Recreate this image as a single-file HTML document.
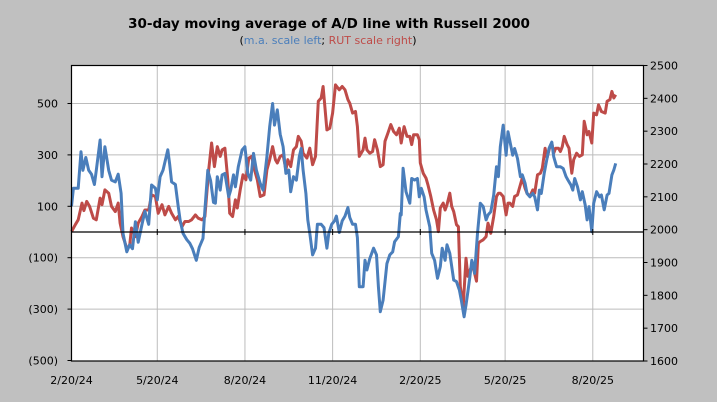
<!DOCTYPE html>
<html><head><meta charset="utf-8"><style>
html,body{margin:0;padding:0;background:#c0c0c0;}
svg{display:block;font-family:"DejaVu Sans","Liberation Sans",sans-serif;}
</style></head><body>
<svg id="chart" width="717" height="402" viewBox="0 0 717 402" xmlns="http://www.w3.org/2000/svg">
<rect x="0" y="0" width="717" height="402" fill="#c0c0c0"/>
<text x="329" y="28" text-anchor="middle" font-size="13.5" font-weight="bold" fill="#000">30-day moving average of A/D line with Russell 2000</text>
<text x="328" y="44" text-anchor="middle" font-size="11"><tspan fill="#000">(</tspan><tspan fill="#4a7ebb">m.a. scale left</tspan><tspan fill="#000">; </tspan><tspan fill="#be4b48">RUT scale right</tspan><tspan fill="#000">)</tspan></text>
<rect x="71.5" y="65.5" width="572" height="295.5" fill="#fff"/>
<g id="grid"></g>
<g id="series"></g>
<g id="axes"></g>
</svg>
<script>
const leftTicks = [500, 300, 100, -100, -300, -500];
const leftTickLabels = ["500", "300", "100", "(100)", "(300)", "(500)"];
const rightTicks = [2500, 2400, 2300, 2200, 2100, 2000, 1900, 1800, 1700, 1600];
const dateTicks = [0, 90, 182, 274, 366, 455, 547];
const dateTickLabels = ["2/20/24", "5/20/24", "8/20/24", "11/20/24", "2/20/25", "5/20/25", "8/20/25"];
const maDays = [0,2,7,10,12,15,18,21,24,26,30,32,35,39,42,46,49,52,54,58,61,64,67,70,74,77,81,84,88,90,93,96,101,103,105,109,112,114,117,121,124,127,131,134,138,140,143,146,149,151,153,156,158,161,165,167,170,172,175,179,182,185,188,191,194,198,201,205,208,211,213,216,219,222,225,228,230,233,236,239,241,243,246,248,250,253,256,258,262,265,268,270,273,276,278,281,284,287,290,292,295,298,300,302,306,308,310,313,317,320,322,324,327,331,334,337,339,343,345,346,348,351,355,357,360,363,365,367,370,372,376,378,381,384,387,389,392,394,397,401,404,407,409,412,414,416,418,420,422,423,426,429,432,435,437,440,443,446,448,450,453,456,458,463,465,468,471,473,476,478,481,484,486,489,491,493,496,499,501,504,506,509,513,516,519,521,524,526,528,531,534,536,539,541,543,546,548,551,554,556,559,562,564,567,569,571];
const maValues = [100,170,170,312,240,290,240,225,185,240,358,215,332,240,202,195,225,150,-5,-77,-50,-65,40,-40,30,80,30,183,170,125,215,240,320,263,195,185,100,47,-5,-30,-43,-65,-110,-60,-25,86,240,200,115,112,215,163,222,228,137,163,222,176,254,319,332,228,202,306,241,189,163,293,410,500,416,475,380,332,228,241,157,215,202,293,325,241,150,47,-5,-89,-63,30,30,17,-63,-5,30,43,62,-2,43,62,95,56,30,30,-22,-213,-213,-110,-148,-103,-63,-89,-213,-310,-265,-123,-89,-77,-38,-18,72,66,248,157,112,208,202,208,137,170,137,86,20,-83,-110,-180,-135,-63,-110,-50,-83,-187,-193,-226,-265,-330,-284,-232,-174,-110,-135,-161,-5,112,99,47,66,79,144,254,215,332,416,299,390,299,325,286,215,222,189,150,137,150,137,86,163,150,228,286,325,350,293,254,254,247,215,202,183,163,208,176,125,157,105,47,99,1,112,157,137,144,86,144,150,222,241,267];
const rutDays = [0,4,7,11,13,16,19,23,26,30,32,35,39,42,46,49,51,54,58,61,63,67,70,74,77,81,84,88,91,95,98,102,105,109,112,116,119,123,126,130,133,137,140,142,144,147,150,153,156,158,161,164,166,169,172,174,177,180,183,186,189,192,195,198,202,205,208,211,214,216,219,222,225,227,230,233,236,238,241,243,247,250,253,256,259,262,264,268,271,274,277,281,284,287,290,292,295,298,300,302,306,308,310,313,316,318,321,324,327,329,332,335,338,341,344,346,349,352,355,357,359,363,365,366,369,372,374,377,380,383,385,387,390,392,394,397,399,401,404,406,408,411,414,416,419,422,425,427,429,432,435,437,440,443,446,448,450,453,456,458,460,463,465,468,471,473,476,478,481,484,486,489,492,494,497,499,502,504,506,508,511,513,515,517,520,522,525,527,530,533,536,538,541,543,546,548,551,553,556,560,562,565,567,569,571];
const rutValues = [1994,2015,2030,2081,2058,2086,2071,2035,2030,2096,2076,2121,2111,2071,2055,2081,2020,1979,1944,1949,2005,1979,2020,2040,2060,2060,2106,2101,2050,2076,2045,2071,2050,2030,2040,2009,2025,2025,2030,2045,2035,2030,2040,2111,2182,2264,2192,2253,2223,2243,2248,2152,2050,2040,2091,2066,2121,2167,2152,2218,2223,2182,2152,2101,2106,2182,2213,2253,2213,2203,2223,2228,2182,2213,2192,2243,2253,2284,2269,2233,2218,2248,2198,2223,2391,2401,2436,2304,2309,2355,2441,2426,2436,2426,2396,2385,2355,2360,2314,2223,2243,2279,2243,2233,2238,2274,2243,2192,2198,2269,2294,2320,2299,2289,2309,2264,2314,2284,2284,2259,2289,2289,2274,2203,2172,2157,2137,2101,2060,2030,1994,2066,2081,2060,2076,2111,2071,2055,2015,2009,1827,1766,1913,1858,1883,1878,1843,1959,1964,1969,1979,2020,1989,2040,2101,2111,2111,2101,2045,2081,2081,2071,2101,2106,2137,2157,2126,2111,2101,2121,2111,2167,2172,2187,2248,2218,2253,2264,2233,2248,2248,2238,2253,2284,2259,2248,2172,2213,2233,2223,2228,2330,2289,2299,2264,2355,2350,2380,2360,2355,2391,2396,2421,2401,2411];

const NS = "http://www.w3.org/2000/svg";
const X0 = 71.5, X1 = 643.5, Y0 = 65.5, Y1 = 361;
const xScale = d => X0 + d * 0.953;
const yLeft = v => 232 - v * 0.257;
const yRight = v => Y1 - (v - 1600) * (Y1 - Y0) / 900;
function mk(tag, attrs, parent) {
  const el = document.createElementNS(NS, tag);
  for (const k in attrs) el.setAttribute(k, attrs[k]);
  parent.appendChild(el);
  return el;
}
const grid = document.getElementById('grid');
const axes = document.getElementById('axes');
const series = document.getElementById('series');

leftTicks.forEach((v, i) => {
  const y = yLeft(v);
  if (v !== -500) {
    const g = mk('line', {x1: X0, x2: X1, y1: y, y2: y, stroke: '#bcbcbc', 'stroke-width': 1}, grid);
    
    
  }
  const t = mk('line', {x1: X0 - 4, x2: X0, y1: y, y2: y, stroke: '#000', 'stroke-width': 1}, axes);
  
  
  const lb = mk('text', {x: 58, y: y + 4, 'text-anchor': 'end', 'font-size': 11, fill: '#000'}, axes);
  lb.textContent = leftTickLabels[i];
  
  
});
dateTicks.forEach((d, i) => {
  const x = xScale(d);
  if (i > 0) {
    const g = mk('line', {x1: x, x2: x, y1: Y0, y2: Y1, stroke: '#bcbcbc', 'stroke-width': 1}, grid);
    
    
  }
  const t = mk('line', {x1: x, x2: x, y1: yLeft(0) - 3, y2: yLeft(0) + 3, stroke: '#000', 'stroke-width': 1}, axes);
  
  
  const lb = mk('text', {x: x, y: 384, 'text-anchor': 'middle', 'font-size': 11, fill: '#000'}, axes);
  lb.textContent = dateTickLabels[i];
  
  
});
rightTicks.forEach(v => {
  const y = yRight(v);
  const t = mk('line', {x1: X1, x2: X1 + 4, y1: y, y2: y, stroke: '#000', 'stroke-width': 1}, axes);
  
  
  const lb = mk('text', {x: 650, y: y + 4, 'text-anchor': 'start', 'font-size': 11, fill: '#000'}, axes);
  lb.textContent = String(v);
  
  
});
const zl = mk('line', {x1: X0, x2: X1, y1: yLeft(0), y2: yLeft(0), stroke: '#000', 'stroke-width': 1.2}, axes);


const fr = mk('rect', {x: X0, y: Y0, width: X1 - X0, height: Y1 - Y0, fill: 'none', stroke: '#000', 'stroke-width': 1.2}, axes);



const rutPts = rutDays.map((d, i) => xScale(d).toFixed(1) + ',' + yRight(rutValues[i]).toFixed(1)).join(' ');
const rutLine = mk('polyline', {points: rutPts, fill: 'none', stroke: '#be4b48', 'stroke-width': 3, 'stroke-linejoin': 'round'}, series);


const maPts = maDays.map((d, i) => xScale(d).toFixed(1) + ',' + yLeft(maValues[i]).toFixed(1)).join(' ');
const maLine = mk('polyline', {points: maPts, fill: 'none', stroke: '#4a7ebb', 'stroke-width': 3, 'stroke-linejoin': 'round'}, series);


</script>
</body></html>
